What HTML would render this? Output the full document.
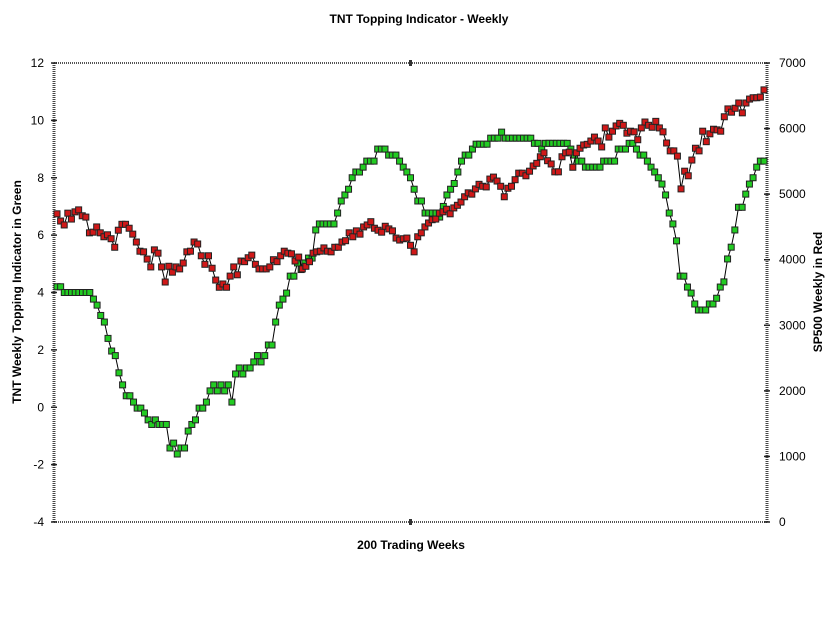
<!DOCTYPE html>
<html><head><meta charset="utf-8"><style>
html,body{margin:0;padding:0;background:#fff;}
svg{display:block;font-family:"Liberation Sans",Arial,sans-serif;}
</style></head><body>
<svg id="chart" width="838" height="621" viewBox="0 0 838 621" xmlns="http://www.w3.org/2000/svg">
<text x="419" y="23" text-anchor="middle" font-size="12" font-weight="bold">TNT Topping Indicator - Weekly</text>
<text x="411" y="549" text-anchor="middle" font-size="12" font-weight="bold">200 Trading Weeks</text>
<text transform="translate(21,292) rotate(-90)" text-anchor="middle" font-size="12" font-weight="bold">TNT Weekly Topping Indicator in Green</text>
<text transform="translate(822,292) rotate(-90)" text-anchor="middle" font-size="12" font-weight="bold">SP500 Weekly in Red</text>
<g id="axes"></g>
<g id="green"></g>
<g id="red"></g>
</svg>
<script>
const leftTicks = [-4,-2,0,2,4,6,8,10,12];
const rightTicks = [0,1000,2000,3000,4000,5000,6000,7000];
const tntValues = [4.2,4.2,4,4,4,4,4,4,4,4,3.77,3.56,3.2,2.97,2.4,1.96,1.8,1.2,0.78,0.4,0.4,0.18,-0.03,-0.03,-0.2,-0.44,-0.6,-0.44,-0.6,-0.6,-0.6,-1.42,-1.25,-1.63,-1.42,-1.42,-0.83,-0.6,-0.44,-0.03,-0.03,0.18,0.57,0.78,0.57,0.78,0.57,0.78,0.18,1.16,1.37,1.16,1.37,1.37,1.58,1.8,1.58,1.8,2.17,2.17,2.97,3.56,3.77,3.98,4.57,4.57,5.03,4.8,5.03,5.2,5.2,6.18,6.39,6.39,6.39,6.39,6.39,6.77,7.19,7.4,7.6,8.0,8.2,8.2,8.37,8.58,8.58,8.58,9.0,9.0,9.0,8.79,8.79,8.79,8.58,8.37,8.2,8.0,7.6,7.19,7.19,6.77,6.77,6.77,6.77,6.63,7.0,7.4,7.6,7.8,8.2,8.58,8.79,8.79,9.0,9.17,9.17,9.17,9.17,9.38,9.38,9.38,9.59,9.38,9.38,9.38,9.38,9.38,9.38,9.38,9.38,9.2,9.2,9.0,9.2,9.2,9.2,9.2,9.2,9.2,9.2,9.0,8.79,8.58,8.58,8.37,8.37,8.37,8.37,8.37,8.58,8.58,8.58,8.58,9.0,9.0,9.0,9.2,9.2,9.0,8.79,8.79,8.58,8.37,8.2,8.0,7.78,7.4,6.77,6.39,5.8,4.57,4.57,4.19,3.98,3.6,3.39,3.39,3.39,3.6,3.6,3.8,4.19,4.37,5.17,5.58,6.18,6.97,6.97,7.43,7.78,8.0,8.37,8.58,8.58];
const spValues = [4700,4590,4530,4710,4620,4730,4760,4670,4650,4410,4420,4500,4410,4350,4380,4320,4190,4450,4540,4540,4480,4390,4270,4130,4120,4010,3890,4150,4100,3890,3660,3900,3810,3890,3860,3950,4120,4130,4270,4240,4060,3930,4060,3870,3690,3580,3630,3580,3750,3890,3770,3980,3970,4030,4070,3930,3860,3860,3860,3890,4000,3970,4060,4130,4100,4090,3980,4040,3860,3900,3970,4100,4120,4130,4180,4130,4120,4190,4190,4270,4290,4410,4350,4440,4390,4500,4530,4580,4480,4450,4420,4510,4470,4440,4330,4300,4320,4330,4220,4120,4350,4410,4500,4560,4610,4620,4710,4730,4770,4700,4790,4830,4880,4960,5020,5000,5080,5150,5120,5110,5230,5260,5200,5120,4960,5090,5120,5220,5320,5320,5280,5350,5430,5470,5570,5630,5510,5460,5340,5340,5570,5630,5640,5410,5630,5700,5750,5760,5810,5870,5810,5720,6010,5870,5960,6040,6080,6050,5930,5960,5950,5830,6010,6100,6050,6020,6110,6010,5950,5780,5660,5660,5580,5080,5350,5280,5520,5700,5660,5960,5800,5920,5990,5980,5960,6180,6300,6250,6310,6390,6240,6390,6450,6470,6470,6480,6590];

const X0=54, X1=767, YT=63, YB=522;
const yL = v => YB - (v+4)/16*(YB-YT);
const yR = v => YB - v/7000*(YB-YT);
const xAt = (i,n) => X0+3 + i*(X1-X0-6)/(n-1);
const NS="http://www.w3.org/2000/svg";
function mk(tag, attrs, parent){const e=document.createElementNS(NS,tag);for(const k in attrs)e.setAttribute(k,attrs[k]);parent.appendChild(e);return e;}
const axes=document.getElementById('axes');
let l;
l=mk('line',{x1:X0,y1:YT,x2:X1,y2:YT,stroke:'#555','stroke-width':2,'stroke-dasharray':'1 1'},axes);


l=mk('line',{x1:X0,y1:YB,x2:X1,y2:YB,stroke:'#555','stroke-width':2,'stroke-dasharray':'1 1'},axes);


l=mk('line',{x1:X0,y1:YT,x2:X0,y2:YB,stroke:'#444','stroke-width':3,'stroke-dasharray':'1 1'},axes);


l=mk('line',{x1:X1,y1:YT,x2:X1,y2:YB,stroke:'#444','stroke-width':3,'stroke-dasharray':'1 1'},axes);


mk('line',{x1:(X0+X1)/2,y1:YT-3,x2:(X0+X1)/2,y2:YT+3,stroke:'#333','stroke-width':3},axes);
mk('line',{x1:(X0+X1)/2,y1:YB-3,x2:(X0+X1)/2,y2:YB+3,stroke:'#333','stroke-width':3},axes);
leftTicks.forEach(v=>{
  const y=yL(v);
  mk('line',{x1:X0-3,y1:y,x2:X0+3,y2:y,stroke:'#222','stroke-width':1.5},axes);
  const t=mk('text',{x:X0-10,y:y+4,'text-anchor':'end','font-size':12},axes);
  t.textContent=v;
  
  
});
rightTicks.forEach(v=>{
  const y=yR(v);
  mk('line',{x1:X1-3,y1:y,x2:X1+3,y2:y,stroke:'#222','stroke-width':1.5},axes);
  const t=mk('text',{x:X1+12,y:y+4,'text-anchor':'start','font-size':12},axes);
  t.textContent=v;
  
  
});
function drawSeries(vals, yf, gid, fill, nm){
  const g=document.getElementById(gid);
  const n=vals.length;
  const pts=vals.map((v,i)=>xAt(i,n).toFixed(1)+','+yf(v).toFixed(1)).join(' ');
  const pl=mk('polyline',{points:pts,fill:'none',stroke:'#000','stroke-width':1},g);
  
  
  vals.forEach((v,i)=>{
    const r=mk('rect',{x:xAt(i,n)-3,y:yf(v)-3,width:6,height:6,fill:fill,stroke:'#222','stroke-width':1},g);
    
    
  });
}
drawSeries(tntValues, yL, 'green', '#22cc22', 'tnt');
drawSeries(spValues, yR, 'red', '#d01818', 'sp500');
</script>
</body></html>
